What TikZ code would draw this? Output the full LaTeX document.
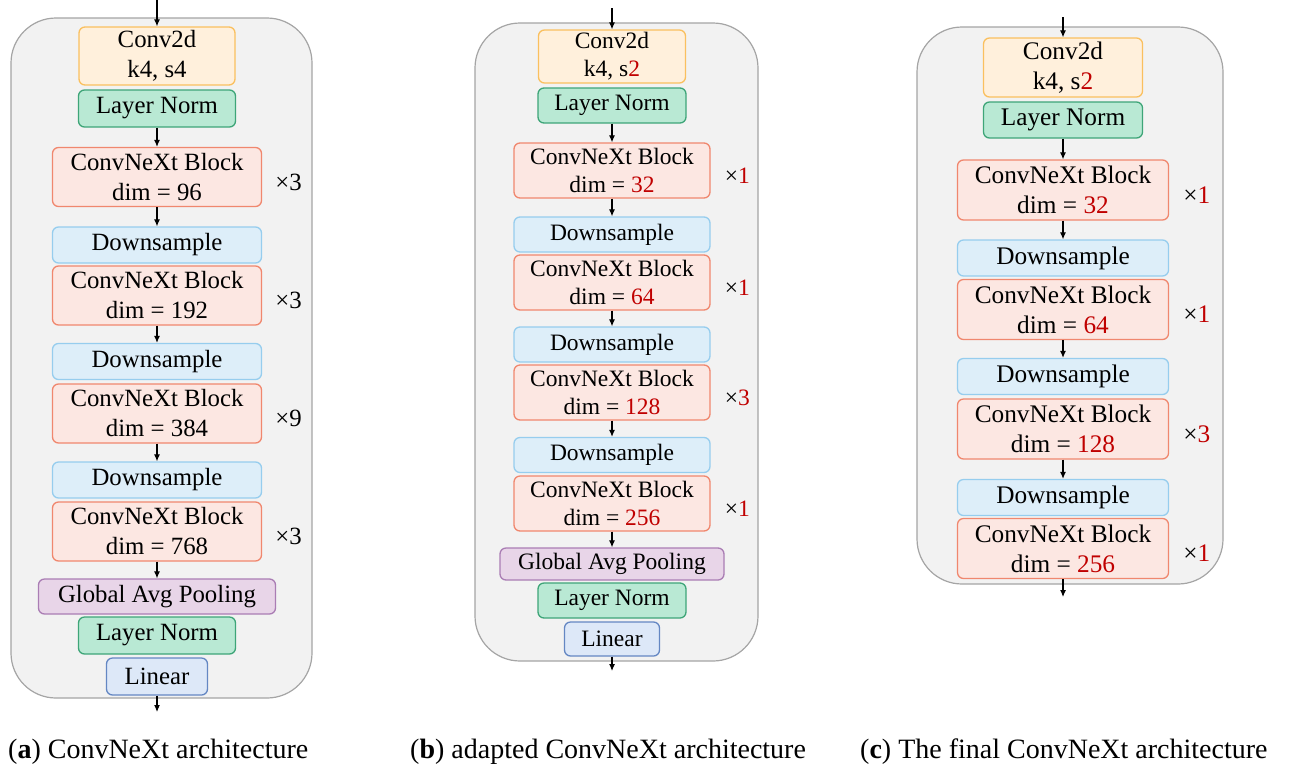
\documentclass[tikz,border=0pt]{standalone}
\usepackage{fontspec}
\setmainfont{Liberation Serif}
\usetikzlibrary{positioning,arrows.meta}
\definecolor{convfill}{RGB}{255,240,220}
\definecolor{convdraw}{RGB}{250,192,95}
\definecolor{normfill}{RGB}{185,233,212}
\definecolor{normdraw}{RGB}{62,165,120}
\definecolor{blockfill}{RGB}{252,231,226}
\definecolor{blockdraw}{RGB}{240,135,110}
\definecolor{downfill}{RGB}{221,238,249}
\definecolor{downdraw}{RGB}{150,205,238}
\definecolor{poolfill}{RGB}{232,213,232}
\definecolor{pooldraw}{RGB}{170,125,180}
\definecolor{linfill}{RGB}{221,232,248}
\definecolor{lindraw}{RGB}{100,135,195}
\definecolor{panelbg}{RGB}{242,242,242}
\definecolor{paneldraw}{RGB}{165,165,165}
\definecolor{changed}{RGB}{192,0,0}

\begin{document}
\begin{tikzpicture}[x=1pt,y=-1pt,
    box/.style={rounded corners=6pt,line width=1.3pt,align=center,inner sep=0pt},
    convbox/.style={box,fill=convfill,draw=convdraw},
    normbox/.style={box,fill=normfill,draw=normdraw},
    blockbox/.style={box,fill=blockfill,draw=blockdraw},
    downbox/.style={box,fill=downfill,draw=downdraw},
    poolbox/.style={box,fill=poolfill,draw=pooldraw},
    linbox/.style={box,fill=linfill,draw=lindraw},
    panel/.style={fill=panelbg,draw=paneldraw,line width=1.2pt,rounded corners=45pt},
    flow/.style={-{Latex[length=7pt,width=6pt]},line width=1.1pt},
    repeats/.style={inner sep=0pt,yshift=-5pt},
    caption/.style={anchor=base west,inner sep=0pt,font=\fontsize{28}{32}\selectfont}]
  \useasboundingbox (0,0) rectangle (1292,769);

  % (a) original ConvNeXt
  \begin{scope}[box/.append style={font=\fontsize{24.8}{30}\selectfont},
      repeats/.append style={font=\fontsize{24.8}{30}\selectfont},
      convbox/.append style={minimum width=156pt,minimum height=58pt},
      normbox/.append style={minimum width=157pt,minimum height=37pt},
      blockbox/.append style={minimum width=209pt,minimum height=59pt},
      downbox/.append style={minimum width=209pt,minimum height=36pt},
      poolbox/.append style={minimum width=237pt,minimum height=35pt},
      linbox/.append style={minimum width=101pt,minimum height=37pt}]
    \filldraw[panel] (11,18) rectangle (312,698);
    \coordinate (ain) at (157,0);
    \coordinate (aout) at (157,712);
    \node[convbox] (aconv) at (157,56) {Conv2d\\k4, s4};
    \node[normbox] (anorm) at (157,108.5) {Layer Norm};
    \node[blockbox] (ab1) at (157,177) {ConvNeXt Block\\dim = 96};
    \node[downbox] (ad1) at (157,245) {Downsample};
    \node[blockbox] (ab2) at (157,295.5) {ConvNeXt Block\\dim = 192};
    \node[downbox] (ad2) at (157,361.5) {Downsample};
    \node[blockbox] (ab3) at (157,413.5) {ConvNeXt Block\\dim = 384};
    \node[downbox] (ad3) at (157,480) {Downsample};
    \node[blockbox] (ab4) at (157,531.5) {ConvNeXt Block\\dim = 768};
    \node[poolbox] (apool) at (157,596.5) {Global Avg Pooling};
    \node[normbox] (anorm2) at (157,635.5) {Layer Norm};
    \node[linbox] (alin) at (157,676.5) {Linear};
    \node[repeats,right=13pt of ab1] (ar1) {×3};
    \node[repeats,right=13pt of ab2] (ar2) {×3};
    \node[repeats,right=13pt of ab3] (ar3) {×9};
    \node[repeats,right=13pt of ab4] (ar4) {×3};
    \draw[flow] (ain) -- (aconv.north);
    \draw[flow] (anorm.south) -- (ab1.north);
    \draw[flow] (ab1.south) -- (ad1.north);
    \draw[flow] (ab2.south) -- (ad2.north);
    \draw[flow] (ab3.south) -- (ad3.north);
    \draw[flow] (ab4.south) -- (apool.north);
    \draw[flow] (alin.south) -- (aout);
  \end{scope}

  % (b) adapted ConvNeXt
  \begin{scope}[box/.append style={font=\fontsize{23.5}{28}\selectfont},
      repeats/.append style={font=\fontsize{23.5}{28}\selectfont},
      convbox/.append style={minimum width=147pt,minimum height=53pt},
      normbox/.append style={minimum width=148pt,minimum height=35pt},
      blockbox/.append style={minimum width=196pt,minimum height=55pt},
      downbox/.append style={minimum width=196pt,minimum height=35pt},
      poolbox/.append style={minimum width=224pt,minimum height=32pt},
      linbox/.append style={minimum width=95pt,minimum height=34pt}]
    \filldraw[panel] (475,23) rectangle (758,661);
    \coordinate (bin) at (612,8);
    \coordinate (bout) at (612,671);
    \node[convbox] (bconv) at (612,56.5) {Conv2d\\k4, s{\color{changed}2}};
    \node[normbox] (bnorm) at (612,105.5) {Layer Norm};
    \node[blockbox] (bb1) at (612,170.5) {ConvNeXt Block\\dim = {\color{changed}32}};
    \node[downbox] (bd1) at (612,234.5) {Downsample};
    \node[blockbox] (bb2) at (612,282.5) {ConvNeXt Block\\dim = {\color{changed}64}};
    \node[downbox] (bd2) at (612,344.5) {Downsample};
    \node[blockbox] (bb3) at (612,392.5) {ConvNeXt Block\\dim = {\color{changed}128}};
    \node[downbox] (bd3) at (612,455) {Downsample};
    \node[blockbox] (bb4) at (612,503.5) {ConvNeXt Block\\dim = {\color{changed}256}};
    \node[poolbox] (bpool) at (612,564) {Global Avg Pooling};
    \node[normbox] (bnorm2) at (612,600.5) {Layer Norm};
    \node[linbox] (blin) at (612,639) {Linear};
    \node[repeats,right=14pt of bb1] (br1) {×{\color{changed}1}};
    \node[repeats,right=14pt of bb2] (br2) {×{\color{changed}1}};
    \node[repeats,right=14pt of bb3] (br3) {×{\color{changed}3}};
    \node[repeats,right=14pt of bb4] (br4) {×{\color{changed}1}};
    \draw[flow] (bin) -- (bconv.north);
    \draw[flow] (bnorm.south) -- (bb1.north);
    \draw[flow] (bb1.south) -- (bd1.north);
    \draw[flow] (bb2.south) -- (bd2.north);
    \draw[flow] (bb3.south) -- (bd3.north);
    \draw[flow] (bb4.south) -- (bpool.north);
    \draw[flow] (blin.south) -- (bout);
  \end{scope}

  % (c) final ConvNeXt
  \begin{scope}[box/.append style={font=\fontsize{25.3}{30}\selectfont},
      repeats/.append style={font=\fontsize{25.3}{30}\selectfont},
      convbox/.append style={minimum width=159pt,minimum height=59pt},
      normbox/.append style={minimum width=159pt,minimum height=36pt},
      blockbox/.append style={minimum width=211pt,minimum height=60pt},
      downbox/.append style={minimum width=211pt,minimum height=36pt}]
    \filldraw[panel] (917,27) rectangle (1223,584);
    \coordinate (cin) at (1063,17);
    \coordinate (cout) at (1063,597);
    \node[convbox] (cconv) at (1063,67.5) {Conv2d\\k4, s{\color{changed}2}};
    \node[normbox] (cnorm) at (1063,120) {Layer Norm};
    \node[blockbox] (cb1) at (1063,190) {ConvNeXt Block\\dim = {\color{changed}32}};
    \node[downbox] (cd1) at (1063,258) {Downsample};
    \node[blockbox] (cb2) at (1063,309.5) {ConvNeXt Block\\dim = {\color{changed}64}};
    \node[downbox] (cd2) at (1063,376.5) {Downsample};
    \node[blockbox] (cb3) at (1063,429) {ConvNeXt Block\\dim = {\color{changed}128}};
    \node[downbox] (cd3) at (1063,497.5) {Downsample};
    \node[blockbox] (cb4) at (1063,548.5) {ConvNeXt Block\\dim = {\color{changed}256}};
    \node[repeats,right=14pt of cb1] (cr1) {×{\color{changed}1}};
    \node[repeats,right=14pt of cb2] (cr2) {×{\color{changed}1}};
    \node[repeats,right=14pt of cb3] (cr3) {×{\color{changed}3}};
    \node[repeats,right=14pt of cb4] (cr4) {×{\color{changed}1}};
    \draw[flow] (cin) -- (cconv.north);
    \draw[flow] (cnorm.south) -- (cb1.north);
    \draw[flow] (cb1.south) -- (cd1.north);
    \draw[flow] (cb2.south) -- (cd2.north);
    \draw[flow] (cb3.south) -- (cd3.north);
    \draw[flow] (cb4.south) -- (cout);
  \end{scope}

  % captions
  \node[caption] (capa) at (8,758) {(\textbf{a}) ConvNeXt architecture};
  \node[caption] (capb) at (410,758) {(\textbf{b}) adapted ConvNeXt architecture};
  \node[caption] (capc) at (860,758) {(\textbf{c}) The final ConvNeXt architecture};
\end{tikzpicture}
\end{document}
